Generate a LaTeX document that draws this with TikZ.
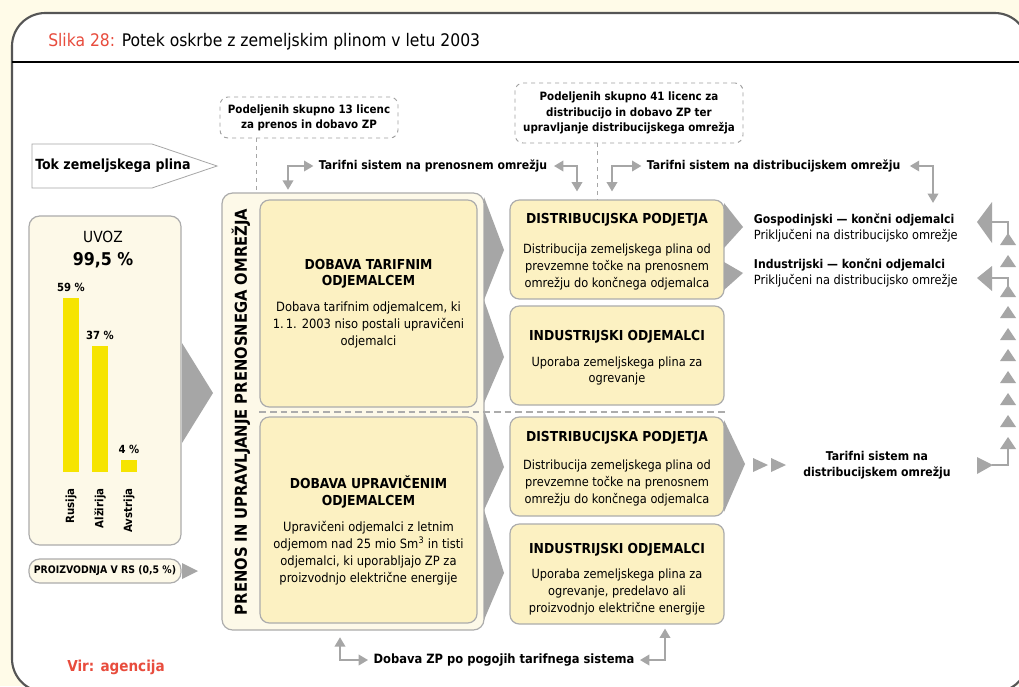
\documentclass[tikz,border=0pt]{standalone}
\usepackage{fontspec}
\setmainfont{DejaVu Sans Condensed}[BoldFont={DejaVu Sans Condensed Bold}]
\usepackage{tikz}
\usetikzlibrary{arrows.meta}

\definecolor{paper}{RGB}{255,251,232}
\definecolor{cream}{RGB}{253,249,232}
\definecolor{boxyellow}{RGB}{252,241,194}
\definecolor{linegray}{RGB}{172,172,172}
\definecolor{arrgray}{RGB}{166,166,166}
\definecolor{baryellow}{RGB}{246,228,0}
\definecolor{slred}{RGB}{232,76,61}
\definecolor{framegray}{RGB}{85,85,85}

\newcommand\txtbody{\fontsize{9.5}{12.4}\selectfont}
\newcommand\txthead{\bfseries\fontsize{10.3}{12.4}\selectfont}

\begin{document}
\begin{tikzpicture}[x=0.75pt, y=-0.75pt,
    ybox/.style={shape=rectangle, draw=linegray, line width=0.9pt, fill=boxyellow, rounded corners=7pt},
    cbox/.style={shape=rectangle, draw=linegray, line width=0.9pt, fill=cream, rounded corners=8pt},
    licbox/.style={shape=rectangle, draw=gray!75, dashed, line width=0.7pt, fill=white, rounded corners=6pt,
        align=center, font=\bfseries\fontsize{8.6}{11.5}\selectfont},
    lbl/.style={inner sep=2pt, font=\bfseries\fontsize{9.1}{12}\selectfont},
    garr/.style={draw=arrgray, line width=1.1pt,
        {Triangle[length=7pt,width=8pt]}-{Triangle[length=7pt,width=8pt]}},
    chev/.style={fill=arrgray},
    dline/.style={draw=gray!70, dashed, line width=0.7pt}]
    % Paths, nodes and wires:
    \useasboundingbox (0,0) rectangle (1019,686);
    \clip (0,0) rectangle (1019,686);
    \fill[paper] (0,0) rectangle (1019,686);
    \draw[framegray, line width=1.6pt, fill=white, rounded corners=25pt] (12,13) rectangle (1028,692);
    \draw[black, line width=1pt] (12,62) -- (1019,62);
    \node[anchor=base west, inner sep=0pt, font=\fontsize{13}{15}\selectfont] (T1) at (48,46)
        {\textcolor{slred}{Slika 28:} Potek oskrbe z zemeljskim plinom v letu 2003};

    % tok plina
    \draw[draw=gray!70, line width=0.6pt, fill=white] (32,144) -- (152,144) -- (217,166) -- (152,188) -- (32,188) -- cycle;
    \node[lbl, font=\bfseries\fontsize{10.5}{13}\selectfont] (TOK) at (113,166) {Tok zemeljskega plina};

    % licence
    \node[licbox, minimum width=133.5pt, minimum height=30.75pt] (L1) at (309,117.5) {Podeljenih skupno 13 licenc\\za prenos in dobavo ZP};
    \node[licbox, minimum width=171pt, minimum height=45pt] (L2) at (629,113) {Podeljenih skupno 41 licenc za\\distribucijo in dobavo ZP ter\\upravljanje distribucijskega omrežja};

    % uvoz
    \node[cbox, minimum width=114pt, minimum height=246.75pt] (UV) at (105,380.5) {};
    \node[font=\fontsize{11.5}{14}\selectfont] (UV1) at (103,237) {UVOZ};
    \node[font=\bfseries\fontsize{13.2}{16}\selectfont] (UV2) at (103,260) {99,5~\%};
    \foreach \x/\top/\p/\land [count=\i] in {71/298/59/Rusija, 100/346/37/Alžirija, 129/460/4/Avstrija}{
        \fill[baryellow] (\x-8,\top) rectangle (\x+8,472);
        \node[font=\bfseries\fontsize{8.4}{9}\selectfont] (P\i) at (\x,\top-11) {\p~\%};
        \node[rotate=90, anchor=east, inner sep=1pt, font=\bfseries\fontsize{8.5}{10}\selectfont] (D\i) at (\x,487) {\land};
    }
    \fill[chev] (182,343) -- (213,393) -- (182,443) -- cycle;
    \node[cbox, minimum width=114pt, minimum height=18pt, rounded corners=8pt, inner sep=1pt,
        font=\bfseries\fontsize{7.8}{9}\selectfont] (RS) at (105,571) {PROIZVODNJA V RS (0,5~\%)};
    \fill[chev] (182,563) -- (198,571) -- (182,579) -- cycle;

    % prenos
    \node[cbox, minimum width=196.5pt, minimum height=327.75pt] (PR) at (353,411.5) {};
    \node[rotate=90, font=\bfseries\fontsize{12.3}{14}\selectfont] (PRT) at (241,412) {PRENOS IN UPRAVLJANJE PRENOSNEGA OMREŽJA};
    \node[ybox, minimum width=162.75pt, minimum height=155.25pt] (TAR) at (368.5,303.5) {}
        node[align=center, font=\txthead] at (368.5,274) {DOBAVA TARIFNIM\\ODJEMALCEM}
        node[align=center, font=\fontsize{9.6}{12.75}\selectfont] at (368.5,325) {Dobava tarifnim odjemalcem, ki\\1.\,1. 2003 niso postali upravičeni\\odjemalci};
    \node[ybox, minimum width=162.75pt, minimum height=154.5pt] (UPR) at (368.5,520) {}
        node[align=center, font=\txthead] at (368.5,492) {DOBAVA UPRAVIČENIM\\ODJEMALCEM}
        node[align=center, font=\fontsize{9.6}{12.75}\selectfont] at (368.5,553) {Upravičeni odjemalci z letnim\\odjemom nad 25 mio Sm\textsuperscript{3} in tisti\\odjemalci, ki uporabljajo ZP za\\proizvodnjo električne energije};
    \foreach \t/\c/\b in {197/250/300, 300/357/403, 410/467/510, 510/573/620}
        \fill[chev] (484,\t) -- (504,\c) -- (484,\b) -- cycle;

    % odjem
    \node[ybox, minimum width=160.5pt, minimum height=74.25pt] (DB1) at (617,249.5) {}
        node[font=\txthead] at (617,220) {DISTRIBUCIJSKA PODJETJA}
        node[align=center, font=\txtbody] at (617,267) {Distribucija zemeljskega plina od\\prevzemne točke na prenosnem\\omrežju do končnega odjemalca};
    \node[ybox, minimum width=160.5pt, minimum height=74.25pt] (IO1) at (617,355.5) {}
        node[font=\txthead] at (617,337) {INDUSTRIJSKI ODJEMALCI}
        node[align=center, font=\txtbody] at (617,371) {Uporaba zemeljskega plina za\\ogrevanje};
    \node[ybox, minimum width=160.5pt, minimum height=74.25pt] (DB2) at (617,466.5) {}
        node[font=\txthead] at (617,438) {DISTRIBUCIJSKA PODJETJA}
        node[align=center, font=\txtbody] at (617,483) {Distribucija zemeljskega plina od\\prevzemne točke na prenosnem\\omrežju do končnega odjemalca};
    \node[ybox, minimum width=160.5pt, minimum height=75pt] (IO2) at (617,574) {}
        node[font=\txthead] at (617,550) {INDUSTRIJSKI ODJEMALCI}
        node[align=center, font=\txtbody] at (617,592) {Uporaba zemeljskega plina za\\ogrevanje, predelavo ali\\proizvodnjo električne energije};
    \draw[gray!65, line width=1.5pt, dash pattern=on 5pt off 3pt] (TAR.south west |- 0,412) -- (IO1.east |- 0,412);

    \fill[chev] (724,203) -- (743,227) -- (724,248) -- cycle;
    \fill[chev] (724,262) -- (743,273) -- (724,290) -- cycle;
    \fill[chev] (724,420) -- (745,464) -- (724,512) -- cycle;
    \fill[chev] (753,458) -- (768,465) -- (753,472) -- cycle;
    \fill[chev] (771,458) -- (786,465) -- (771,472) -- cycle;

    \node[lbl, anchor=west] (GO) at (751,220) {Gospodinjski — končni odjemalci};
    \node[inner sep=2pt, anchor=west, font=\txtbody] (GO2) at (751,236) {Priključeni na distribucijsko omrežje};
    \node[lbl, anchor=west] (IN) at (751,265) {Industrijski — končni odjemalci};
    \node[inner sep=2pt, anchor=west, font=\txtbody] (IN2) at (751,281) {Priključeni na distribucijsko omrežje};
    \node[lbl, align=center] (TD2) at (877,465) {Tarifni sistem na\\distribucijskem omrežju};

    % desni rob
    \fill[chev] (977,222) -- (992,202) -- (992,243) -- cycle;
    \fill[chev] (977,278) -- (992,266) -- (992,291) -- cycle;
    \draw[arrgray, line width=1.1pt] (992,222) -- (1008,222) -- (1008,234);
    \draw[arrgray, line width=1.1pt] (992,278) -- (1008,278) -- (1008,287);
    \foreach \ty in {233,255,285,306,328,349,371,393,415,437}
        \fill[chev] (1008,\ty) -- (1016,\ty+12) -- (1000,\ty+12) -- cycle;
    \draw[arrgray, line width=1.1pt] (1008,449) -- (1008,465) -- (992,465);
    \fill[chev] (977,457) -- (993,465) -- (977,474) -- cycle;

    % tarifni sistem
    \node[lbl, anchor=west] (TP) at (316,166) {Tarifni sistem na prenosnem omrežju};
    \node[lbl, anchor=west] (TD) at (644,166) {Tarifni sistem na distribucijskem omrežju};
    \coordinate (K1) at (288,166);
    \coordinate (K2) at (577,166);
    \coordinate (K3) at (612,166);
    \coordinate (K4) at (933,166);
    \draw[garr, shorten <=2pt, shorten >=2pt] (TP.west) -- (K1) -- (K1 |- PR.north);
    \draw[garr, shorten <=3pt, shorten >=6pt] (TP.east) -- (K2) -- (K2 |- DB1.north);
    \draw[garr, shorten <=2pt, shorten >=6pt] (TD.west) -- (K3) -- (K3 |- DB1.north);
    \draw[garr, shorten <=5pt, shorten >=6pt] (TD.east) -- (K4) -- (K4 |- GO.north);
    \coordinate (E1) at (256,138);
    \coordinate (E2) at (597,143);
    \draw[dline] (E1) -- (E1 |- PR.north);
    \draw[dline] (E2) -- (E2 |- DB1.north);

    % dobava
    \node[lbl, font=\bfseries\fontsize{9.6}{12}\selectfont] (DZ) at (504,660) {Dobava ZP po pogojih tarifnega sistema};
    \coordinate (K5) at (340,660);
    \coordinate (K6) at (665,660);
    \draw[garr, shorten <=2pt, shorten >=5pt] (DZ.west) -- (K5) -- (K5 |- PR.south);
    \draw[garr, shorten <=2pt, shorten >=3pt] (DZ.east) -- (K6) -- (K6 |- IO2.south);

    \node[text=slred, font=\bfseries\fontsize{11.3}{13}\selectfont] (VIR) at (116,667) {Vir: agencija};
\end{tikzpicture}
\end{document}
